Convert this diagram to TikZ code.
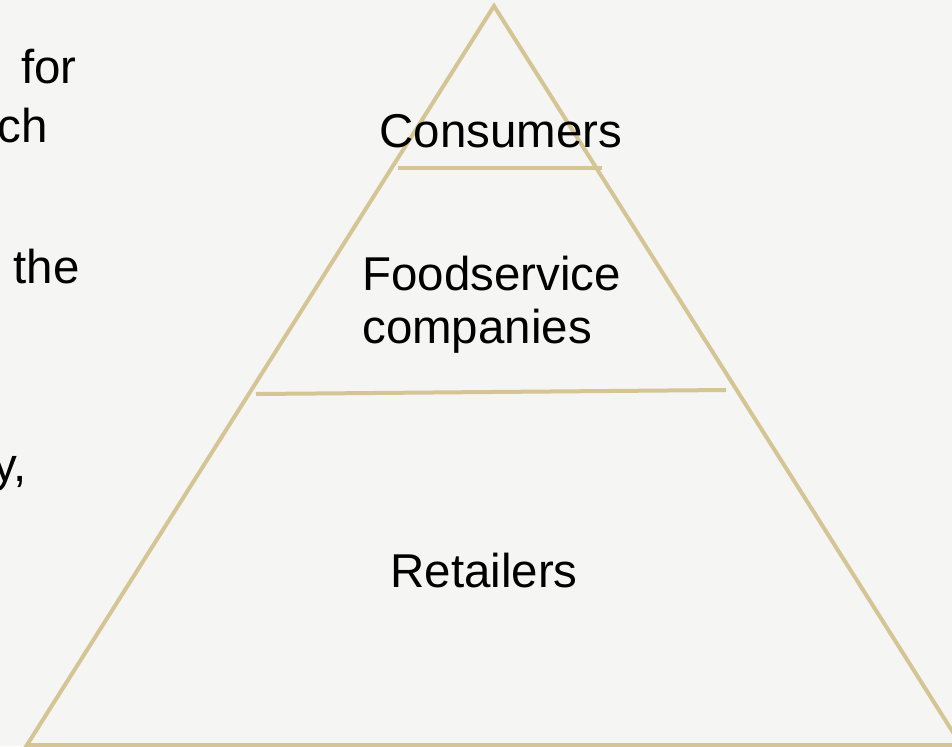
\documentclass[tikz,border=0pt]{standalone}
\usepackage{fontspec}
\setmainfont{Liberation Sans}
\definecolor{pagebg}{HTML}{F5F5F3}
\definecolor{tier}{HTML}{D5C494}
\begin{document}
\begin{tikzpicture}[x=0.75pt,y=-0.75pt,
  edge/.style={draw=tier,line width=3pt,line join=miter},
  divider/.style={draw=tier,line width=3pt},
  label/.style={inner sep=0pt,font=\fontsize{35.6}{39}\selectfont,text=black}]
  % page
  \fill[pagebg] (0,0) rectangle (952,746);
  \useasboundingbox (0,0) rectangle (952,746);
  \begin{scope}
    \clip (0,0) rectangle (952,746);
    % pyramid outline
    \coordinate (apex) at (494,6);
    \coordinate (bl) at (27,745);
    \coordinate (br) at (961,745);
    \draw[edge] (bl) -- (apex) -- (br) -- cycle;
    % tier dividers
    \coordinate (d1a) at (398,168);
    \coordinate (d1b) at (602,168);
    \coordinate (d2a) at (256,394);
    \coordinate (d2b) at (726,390);
    \draw[divider] (d1a) -- (d1b);
    \draw[divider] (d2a) -- (d2b);
    % tier labels
    \node[label,anchor=base] (consumers) at (501,147) {Consumers};
    \node[label,anchor=base west,align=left] (food) at (362,343)
      {Foodservice\\[0.6pt]companies};
    \node[label,anchor=base] (retail) at (484,587) {Retailers};
    % body text running off the left edge
    \node[label,anchor=base east] (t1) at (77,83) {for};
    \node[label,anchor=base east] (t2) at (48,142) {ch};
    \node[label,anchor=base east] (t3) at (80,283) {the};
    \node[label,anchor=base east] (t4) at (27,481) {y,};
  \end{scope}
\end{tikzpicture}
\end{document}
